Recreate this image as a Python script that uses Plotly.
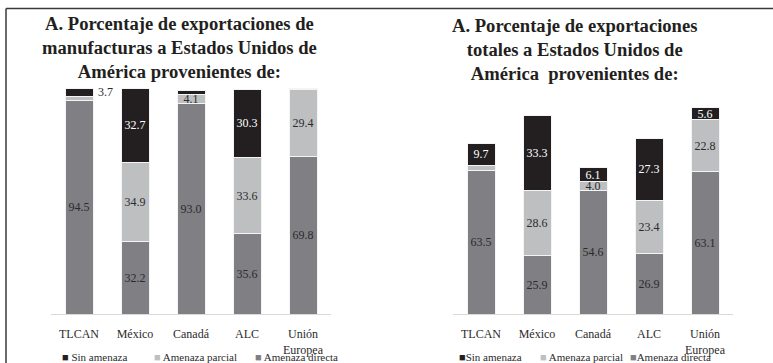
import plotly.graph_objects as go

# ---------------- data ----------------
categories = ["TLCAN", "México", "Canadá", "ALC", "Unión<br>Europea"]

manuf_directa = [94.5, 32.2, 93.0, 35.6, 69.8]
manuf_parcial = [1.8, 34.9, 4.1, 33.6, 29.4]
manuf_sin = [3.7, 32.7, 1.9, 30.3, 0.8]

total_directa = [63.5, 25.9, 54.6, 26.9, 63.1]
total_parcial = [2.3, 28.6, 4.0, 23.4, 22.8]
total_sin = [9.7, 33.3, 6.1, 27.3, 5.6]

series_names = ["Amenaza directa", "Amenaza parcial", "Sin amenaza"]
legend_items = ["Sin amenaza", "Amenaza parcial", "Amenaza directa"]
title_left = "A. Porcentaje de exportaciones de<br>manufacturas a Estados Unidos de<br>América provenientes de:"
title_right = "A. Porcentaje de exportaciones<br>totales a Estados Unidos de<br>América\u00a0 provenientes de:"

# ---------------- style ----------------
W, H = 773, 363
SERIF = "Liberation Serif"
colors = {"Amenaza directa": "#807f83", "Amenaza parcial": "#bebfc1", "Sin amenaza": "#231f20"}
text_colors = {"Amenaza directa": "#2b2b2b", "Amenaza parcial": "#2b2b2b", "Sin amenaza": "#ffffff"}


def px_x(p):
    return p / W


def px_y(p):
    return 1 - p / H


fig = go.Figure()
annotations = []

panels = [
    ("x", "y", [manuf_directa, manuf_parcial, manuf_sin]),
    ("x2", "y2", [total_directa, total_parcial, total_sin]),
]

for xa, ya, vals in panels:
    base = [0.0] * len(categories)
    for name, v in zip(series_names, vals):
        labels = [f"{x:.1f}" if x >= 4 else "" for x in v]
        fig.add_trace(go.Bar(
            x=categories, y=v, name=name, xaxis=xa, yaxis=ya,
            marker=dict(color=colors[name], line=dict(color="#f4f4f4", width=1)),
            text=labels, textposition="inside", insidetextanchor="middle",
            textangle=0, constraintext="none",
            textfont=dict(family=SERIF, size=12, color=text_colors[name]),
            showlegend=False, hoverinfo="skip",
        ))
        # small values that are labelled outside the bar
        for i, x in enumerate(v):
            if 3 <= x < 4:
                annotations.append(dict(
                    x=categories[i], y=base[i] + x / 2, xref=xa, yref=ya,
                    text=f"{x:.1f}", showarrow=False, xanchor="left", yanchor="middle",
                    xshift=17, font=dict(family=SERIF, size=12, color="#2b2b2b"),
                ))
        base = [b + x for b, x in zip(base, v)]

axis_common = dict(
    showline=True, linecolor="#d9d9d9", linewidth=1, showgrid=False, zeroline=False,
    ticks="", tickfont=dict(family=SERIF, size=12, color="#2b2b2b"),
    ticklabelstandoff=9, fixedrange=True,
)
yaxis_common = dict(range=[0, 100], visible=False, showgrid=False, zeroline=False, fixedrange=True)

y_dom = [px_y(314), px_y(88)]
fig.update_layout(
    width=W, height=H,
    margin=dict(l=0, r=0, t=0, b=0),
    paper_bgcolor="white", plot_bgcolor="white",
    font=dict(family=SERIF),
    barmode="stack", bargap=0.5,
    xaxis=dict(domain=[px_x(51), px_x(331)], anchor="y", **axis_common),
    yaxis=dict(domain=y_dom, anchor="x", **yaxis_common),
    xaxis2=dict(domain=[px_x(453), px_x(733)], anchor="y2", **axis_common),
    yaxis2=dict(domain=y_dom, anchor="x2", **yaxis_common),
)

# titles
for tx, cx, cy in [(title_left, 179, 47.5), (title_right, 574, 49.5)]:
    annotations.append(dict(
        x=px_x(cx), y=px_y(cy), xref="paper", yref="paper", text=f"<b>{tx}</b>",
        showarrow=False, xanchor="center", yanchor="middle", align="center",
        font=dict(family=SERIF, size=18.6, color="#231f20"),
    ))

# legends (text)
legend_rows = [
    ([60, 152, 253], [" ", " ", " "]),
    ([457, 538, 628], ["", " ", ""]),
]
for xs, seps in legend_rows:
    for name, lx, sep in zip(legend_items, xs, seps):
        annotations.append(dict(
            x=px_x(lx), y=px_y(357), xref="paper", yref="paper",
            text=f"<span style='color:{colors[name]}'>■</span>{sep}{name}",
            showarrow=False, xanchor="left", yanchor="middle",
            font=dict(family=SERIF, size=11, color="#2b2b2b"),
        ))

fig.update_layout(annotations=annotations)

# frame lines
fig.add_shape(type="line", xref="paper", yref="paper",
              x0=px_x(6), x1=px_x(6), y0=0, y1=px_y(8.5),
              line=dict(color="#3a3a3a", width=1.5))
fig.add_shape(type="line", xref="paper", yref="paper",
              x0=px_x(6), x1=1, y0=px_y(8.5), y1=px_y(8.5),
              line=dict(color="#3a3a3a", width=1.5))

fig.write_html("out.html", config={"displayModeBar": False},
               post_script="document.body.style.margin='0';")
